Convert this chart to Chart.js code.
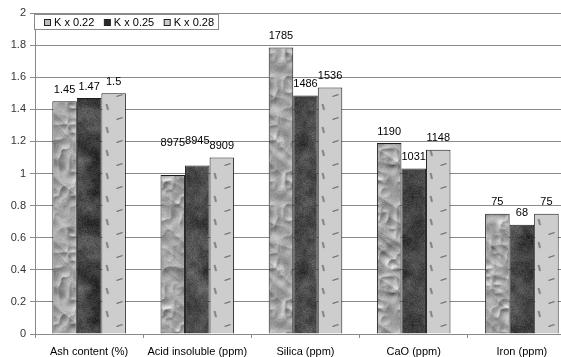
<!DOCTYPE html>
<html>
<head>
<meta charset="utf-8">
<script src="https://cdn.jsdelivr.net/npm/chart.js@4.4.1/dist/chart.umd.min.js"></script>
<style>
  html, body { margin: 0; padding: 0; overflow: hidden; background: #fff; }
  #wrap { width: 577px; height: 357px; position: relative; }
</style>
</head>
<body>
<div id="wrap"><canvas id="chart" width="577" height="357"></canvas></div>
<script>
// ---- data ----
const categories = ['Ash content (%)', 'Acid insoluble (ppm)', 'Silica (ppm)', 'CaO (ppm)', 'Iron (ppm)'];
const seriesNames = ['K x 0.22', 'K x 0.25', 'K x 0.28'];
const k022 = [1.45, 0.99, 1.785, 1.19, 0.75];
const k025 = [1.47, 1.05, 1.486, 1.031, 0.68];
const k028 = [1.50, 1.10, 1.536, 1.148, 0.75];
const k022Labels = ['1.45', '8975', '1785', '1190', '75'];
const k025Labels = ['1.47', '8945', '1486', '1031', '68'];
const k028Labels = ['1.5', '8909', '1536', '1148', '75'];
const yTickLabels = ['0', '0.2', '0.4', '0.6', '0.8', '1', '1.2', '1.4', '1.6', '1.8', '2'];

const FONT = '"Liberation Sans", Arial, Helvetica, sans-serif';

// ---- texture fills ----
function hash(x, y) {
  const s = Math.sin(x * 12.9898 + y * 78.233) * 43758.5453;
  return s - Math.floor(s);
}

// tileable value noise on an Lx x Ly lattice over a tile of size N
function valueNoise(x, y, Lx, Ly, N, seed) {
  const fx = x / N * Lx, fy = y / N * Ly;
  const ix = Math.floor(fx), iy = Math.floor(fy);
  const tx = fx - ix, ty = fy - iy;
  const sx = tx * tx * (3 - 2 * tx), sy = ty * ty * (3 - 2 * ty);
  const wx = (a) => ((a % Lx) + Lx) % Lx;
  const wy = (a) => ((a % Ly) + Ly) % Ly;
  const v = (a, b) => hash(wx(a) + seed * 37.1, wy(b) + seed * 91.7);
  const a = v(ix, iy), b = v(ix + 1, iy), c = v(ix, iy + 1), d = v(ix + 1, iy + 1);
  const top = a + (b - a) * sx, bot = c + (d - c) * sx;
  return top + (bot - top) * sy;
}

function grayTile(N, shadeAt) {
  const c = document.createElement('canvas');
  c.width = N; c.height = N;
  const g = c.getContext('2d');
  const img = g.createImageData(N, N);
  for (let y = 0; y < N; y++) {
    for (let x = 0; x < N; x++) {
      const s = Math.max(0, Math.min(255, shadeAt(x, y)));
      const i = (y * N + x) * 4;
      img.data[i] = img.data[i + 1] = img.data[i + 2] = s;
      img.data[i + 3] = 255;
    }
  }
  g.putImageData(img, 0, 0);
  return c;
}

// crumpled paper: sheared ridged noise lit from the upper left
function crumpledTile() {
  const N = 128;
  const ridge = (n) => 1 - Math.abs(2 * n - 1);
  const h = (x, y) => {
    const X = x - y;
    return 1.0 * ridge(valueNoise(X, y, 8, 3, N, 1)) +
           0.55 * ridge(valueNoise(X, y, 12, 6, N, 2)) +
           0.35 * ridge(valueNoise(x, y, 16, 16, N, 3));
  };
  return grayTile(N, (x, y) => {
    const dx = h(x + 0.7, y) - h(x - 0.7, y);
    const dy = h(x, y + 0.7) - h(x, y - 0.7);
    return 162 + 360 * (dx * 0.6 + dy * 0.8) + (hash(x, y) - 0.5) * 14;
  });
}

// dark granite: fractal mottling
function graniteTile() {
  const N = 128;
  return grayTile(N, (x, y) => {
    const n = 0.5 * valueNoise(x, y, 8, 8, N, 4) + 0.3 * valueNoise(x, y, 16, 16, N, 5) + 0.2 * valueNoise(x, y, 32, 32, N, 6);
    return 24 + 88 * n + (hash(x + 3, y + 7) - 0.5) * 24;
  });
}

// light grey with small grey dashes
function dashTile() {
  const c = document.createElement('canvas');
  c.width = 108; c.height = 23;
  const g = c.getContext('2d');
  g.fillStyle = '#cdcdcd';
  g.fillRect(0, 0, 108, 23);
  g.strokeStyle = '#636363';
  g.lineWidth = 1.3;
  g.beginPath();
  g.moveTo(15, 4.5); g.lineTo(21, 2.5);
  g.moveTo(5, 12); g.lineTo(6.5, 18);
  g.stroke();
  return c;
}

const ctx = document.getElementById('chart').getContext('2d');
const fillA = ctx.createPattern(crumpledTile(), 'repeat');
const fillB = ctx.createPattern(graniteTile(), 'repeat');
const fillC = ctx.createPattern(dashTile(), 'repeat');
if (fillC.setTransform) fillC.setTransform(new DOMMatrix().translate(101.5, 0));
const fills = [fillA, fillB, fillC];
const swatchColors = ['#bdbdbd', '#2a2a2a', '#cccccc'];

// ---- value labels above bars ----
const valueLabels = {
  id: 'valueLabels',
  afterDatasetsDraw(chart, args, opts) {
    const c = chart.ctx;
    const y = chart.scales.y;
    c.save();
    c.font = '11px ' + FONT;
    c.fillStyle = '#000';
    c.textAlign = 'center';
    c.textBaseline = 'middle';
    chart.data.datasets.forEach((ds, di) => {
      chart.getDatasetMeta(di).data.forEach((bar, i) => {
        const key = i + ',' + di;
        const top = opts.anchor && opts.anchor[key] !== undefined ? y.getPixelForValue(opts.anchor[key]) : bar.y;
        c.fillText(ds.valueText[i], bar.x, top - 11.5);
      });
    });
    c.restore();
  }
};

// ---- legend box drawn over the plot ----
const boxLegend = {
  id: 'boxLegend',
  afterDraw(chart) {
    const c = chart.ctx;
    c.save();
    c.font = '11px ' + FONT;
    c.fillStyle = '#fff';
    c.strokeStyle = '#8a8a8a';
    c.lineWidth = 1;
    c.fillRect(34.5, 14.5, 184, 15);
    c.strokeRect(34.5, 14.5, 184, 15);
    let x = 44;
    chart.data.datasets.forEach((ds, di) => {
      c.fillStyle = swatchColors[di];
      c.fillRect(x + 0.5, 19.5, 6, 6);
      c.strokeStyle = '#222';
      c.strokeRect(x + 0.5, 19.5, 6, 6);
      c.fillStyle = '#000';
      c.textAlign = 'left';
      c.textBaseline = 'middle';
      c.fillText(ds.label, x + 10, 22.5);
      x += 10 + c.measureText(ds.label).width + 9.5;
    });
    c.restore();
  }
};

const values = [k022, k025, k028];
const texts = [k022Labels, k025Labels, k028Labels];

new Chart(ctx, {
  type: 'bar',
  data: {
    labels: categories,
    datasets: seriesNames.map((name, i) => ({
      label: name,
      data: values[i],
      valueText: texts[i],
      backgroundColor: fills[i],
      borderColor: '#1c1c1c',
      borderWidth: 1,
      borderSkipped: 'bottom',
      barPercentage: 1,
      categoryPercentage: 0.68
    }))
  },
  options: {
    responsive: false,
    animation: false,
    events: [],
    layout: { padding: { top: 13, right: 1, left: 0, bottom: 0 } },
    plugins: {
      legend: { display: false },
      tooltip: { enabled: false },
      valueLabels: { anchor: { '1,0': 1.12, '1,1': 1.133 } }
    },
    scales: {
      x: {
        afterFit(s) { s.height = 23; },
        grid: { display: true, drawOnChartArea: false, offset: true, tickLength: 4, color: '#8a8a8a' },
        border: { color: '#8a8a8a' },
        ticks: { color: '#000', font: { family: FONT, size: 11 }, padding: 7, maxRotation: 0, autoSkip: false }
      },
      y: {
        min: 0,
        max: 2,
        afterFit(s) { s.width = 35; },
        grid: { color: '#8a8a8a', tickLength: 5 },
        border: { color: '#8a8a8a' },
        ticks: {
          stepSize: 0.2,
          color: '#333',
          font: { family: FONT, size: 11 },
          padding: 4,
          callback: (v, i) => yTickLabels[i]
        }
      }
    }
  },
  plugins: [valueLabels, boxLegend]
});
</script>
</body>
</html>
